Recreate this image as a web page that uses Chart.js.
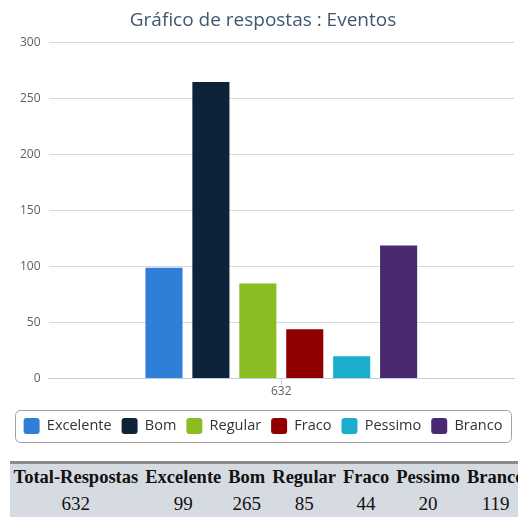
<!DOCTYPE html>
<html lang="pt">
	<head>
		<meta charset="utf-8">
		<title>Gráfico de respostas : Eventos</title>
		<script src="https://cdn.jsdelivr.net/npm/chart.js"></script>
		<style>
			body {
				margin: 0;
				background-color: #FFF;
				overflow: hidden;
			}
			#box {
				position: relative;
				width: 518px;
				height: 452px;
			}
			table.resumo {
				margin: 9px 0 0 10px;
				border-top: 3px solid #8a8a8a;
				background-color: #d6dbe1;
				border-spacing: 0;
				font-family: "Liberation Serif", "Times New Roman", serif;
				font-size: 18.5px;
				color: #111;
				white-space: nowrap;
			}
			table.resumo th, table.resumo td {
				padding: 3px 3.5px 2px;
				text-align: center;
			}
			table.resumo td {
				font-size: 19px;
			}
		</style>
	</head>
	<body>
		<div id="box"><canvas id="stats"></canvas></div>
		<table class="resumo" id="resumo"></table>
		<script>
			const categorias = ["632"];
			const nomes = ["Excelente", "Bom", "Regular", "Fraco", "Pessimo", "Branco"];
			const valores = [99, 265, 85, 44, 20, 119];
			const cores = ["#2f7ed8", "#0d233a", "#8bbc21", "#910000", "#1aadce", "#492970"];
			const total = 632;
			const yTicks = [0, 50, 100, 150, 200, 250, 300];

			// moldura arredondada em volta da legenda
			const legendBox = {
				id: "legendBox",
				afterDraw(chart) {
					const hb = chart.legend.legendHitBoxes;
					if (!hb || !hb.length) return;
					let l = Infinity, r = -Infinity, t = Infinity, b = -Infinity;
					hb.forEach(h => {
						l = Math.min(l, h.left); r = Math.max(r, h.left + h.width);
						t = Math.min(t, h.top); b = Math.max(b, h.top + h.height);
					});
					const ctx = chart.ctx;
					ctx.save();
					ctx.strokeStyle = "#a0a0a0";
					ctx.lineWidth = 1;
					ctx.beginPath();
					ctx.roundRect(Math.round(l) - 8.5, Math.round(t) - 7.5, Math.round(r - l) + 17, Math.round(b - t) + 16, 5);
					ctx.stroke();
					ctx.restore();
				}
			};

			const config = {
				type: "bar",
				data: {
					labels: categorias,
					datasets: nomes.map((n, i) => ({
						label: n,
						data: [valores[i]],
						backgroundColor: cores[i],
						borderWidth: 0,
						categoryPercentage: 0.605,
						barPercentage: 0.79
					}))
				},
				options: {
					responsive: true,
					maintainAspectRatio: false,
					animation: false,
					layout: { padding: { left: 12, right: 4, top: 0, bottom: 8 } },
					plugins: {
						title: {
							display: true,
							text: "Gráfico de respostas : Eventos",
							color: "#3e576f",
							font: { family: "Open Sans", size: 19, weight: "normal" },
							padding: { top: 9, bottom: 11 }
						},
						legend: {
							position: "bottom",
							labels: {
								color: "#333",
								font: { family: "Open Sans", size: 14.5 },
								boxWidth: 16,
								boxHeight: 16,
								useBorderRadius: true,
								borderRadius: 3,
								padding: 10
							}
						},
						tooltip: { enabled: false }
					},
					scales: {
						x: {
							afterFit: axis => { axis.height += 9; },
							grid: { display: true, drawOnChartArea: false, offset: false, tickLength: 6, color: "#c0d0e0" },
							border: { display: true, color: "#c0d0e0" },
							ticks: { color: "#606060", font: { family: "Open Sans", size: 12 }, padding: 0 }
						},
						y: {
							min: 0,
							max: 300,
							afterBuildTicks: axis => { axis.ticks = yTicks.map(v => ({ value: v })); },
							grid: { color: "#d8d8d8", drawTicks: false },
							border: { display: false },
							ticks: { color: "#606060", font: { family: "Open Sans", size: 12 }, padding: 8 }
						}
					}
				},
				plugins: [legendBox]
			};

			new Chart(document.getElementById("stats"), config);

			// tabela de resumo
			const tab = document.getElementById("resumo");
			const cab = tab.insertRow();
			const lin = tab.insertRow();
			["Total-Respostas"].concat(nomes).forEach(t => {
				const th = document.createElement("th");
				th.textContent = t;
				cab.appendChild(th);
			});
			[total].concat(valores).forEach(v => {
				lin.insertCell().textContent = v;
			});
		</script>
	</body>
</html>
